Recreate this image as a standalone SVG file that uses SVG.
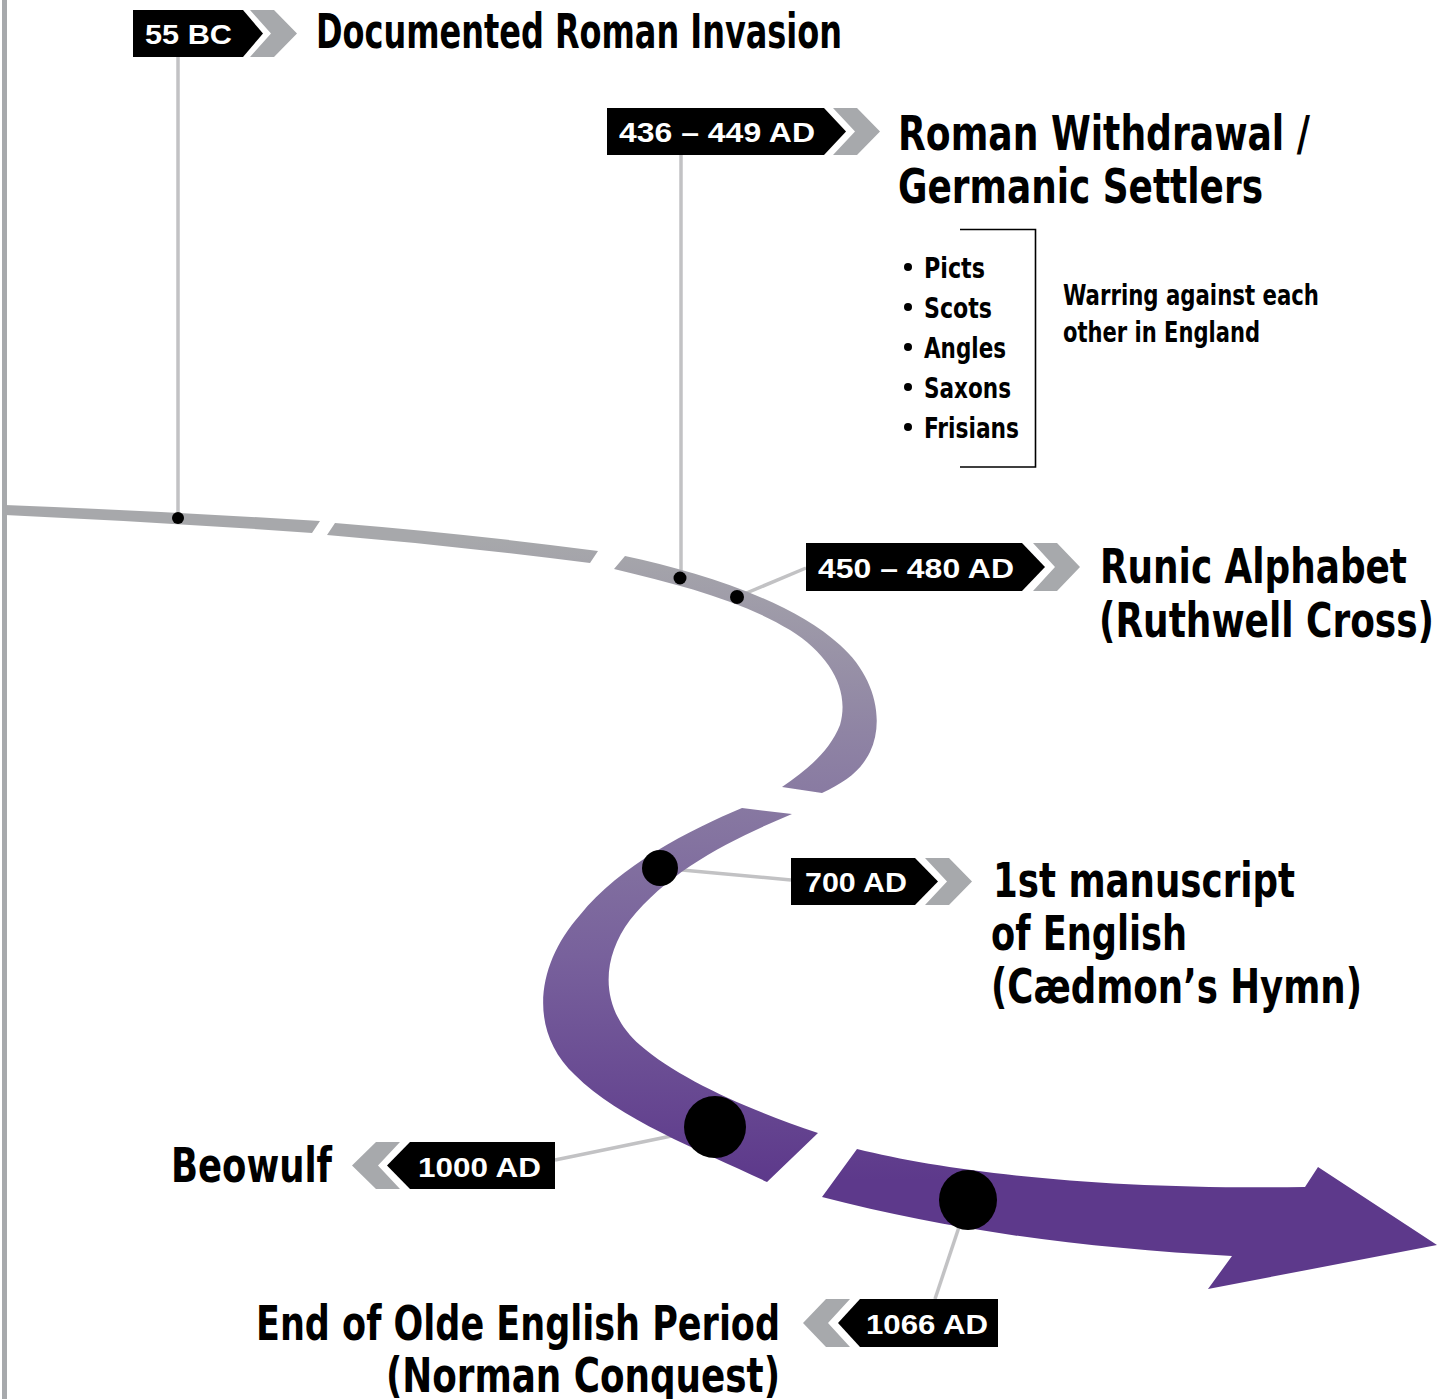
<svg xmlns="http://www.w3.org/2000/svg" width="1450" height="1399" viewBox="0 0 1450 1399">
<style>
.title{font-family:"Liberation Sans Narrow","DejaVu Sans Condensed","Liberation Sans",sans-serif;font-weight:bold;font-size:48px;fill:#000}
.small{font-family:"Liberation Sans Narrow","DejaVu Sans Condensed","Liberation Sans",sans-serif;font-weight:bold;font-size:29px;fill:#000}
.lab{font-family:"Liberation Sans","DejaVu Sans",sans-serif;font-weight:bold;font-size:28px;fill:#fff}
.tag{fill:#000}
.chev{fill:#a7a9ac}
.conn{stroke:#c2c2c4;stroke-width:3.5;fill:none}
.band{fill:url(#bandGrad)}
.dot{fill:#000}
</style>
<defs>
<linearGradient id="bandGrad" gradientUnits="userSpaceOnUse" x1="0" y1="540" x2="0" y2="1180">
<stop offset="0" stop-color="#a7a8ab"/>
<stop offset="0.3" stop-color="#8f84a4"/>
<stop offset="0.65" stop-color="#78619c"/>
<stop offset="1" stop-color="#5d398b"/>
</linearGradient>
</defs>
<rect x="2" y="0" width="5" height="1399" fill="#a7a9ac"/>
<g id="connectors">
<line class="conn" x1="178" y1="57" x2="178" y2="518"/>
<line class="conn" x1="681" y1="155" x2="681" y2="578"/>
<line class="conn" x1="737" y1="597" x2="806" y2="568"/>
<line class="conn" x1="660" y1="868" x2="791" y2="880"/>
<line class="conn" x1="715" y1="1127" x2="555" y2="1160"/>
<line class="conn" x1="968" y1="1200" x2="935" y2="1299"/>
</g>
<g id="timeline">
<path class="band" d="M5,505 Q160,511 320,521 L312,533 Q160,522 5,515 Z"/>
<path class="band" d="M335,523 Q470,534 598,551 L590,563 Q460,546 327,535 Z"/>
<path class="band" d="M625,556 C700,572 790,600 840,645 C875,676 885,720 870,752 C860,772 845,782 822,793 L782,787 C810,768 830,750 840,725 C850,690 830,655 790,630 C740,600 680,585 614,569 Z"/>
<path class="band" d="M742,808 C690,830 620,865 580,915 C537,963 527,1030 575,1075 C620,1120 700,1150 767,1182 L818,1133 C750,1110 680,1080 640,1045 C600,1010 600,960 630,920 C670,870 730,840 792,814 Z"/>
<path class="band" d="M857,1149 C950,1172 1100,1190 1305,1187 L1318,1167 L1437,1245 L1208,1289 L1232,1256 C1080,1248 950,1230 822,1197 Z"/>
</g>
<g id="n55bc">
<circle class="dot" cx="178" cy="518" r="6"/>
<path class="tag" d="M133,10 H243 L263,33.5 L243,57 H133 Z"/>
<path class="chev" d="M250,10 H274 L297,33.5 L274,57 H250 L271,33.5 Z"/>
<text class="lab" x="145" y="44" textLength="87" lengthAdjust="spacingAndGlyphs">55 BC</text>
<text class="title" x="316" y="48" textLength="526" lengthAdjust="spacingAndGlyphs">Documented Roman Invasion</text>
</g>
<g id="n436">
<circle class="dot" cx="680" cy="578" r="6.5"/>
<path class="tag" d="M607,108 H824 L846,131.5 L824,155 H607 Z"/>
<path class="chev" d="M833,108 H857 L880,131.5 L857,155 H833 L855,131.5 Z"/>
<text class="lab" x="619" y="142" textLength="196" lengthAdjust="spacingAndGlyphs">436 – 449 AD</text>
<text class="title" x="898" y="150" textLength="412" lengthAdjust="spacingAndGlyphs">Roman Withdrawal /</text>
<text class="title" x="898" y="203" textLength="365" lengthAdjust="spacingAndGlyphs">Germanic Settlers</text>
</g>
<g id="tribes">
<path d="M960,229.5 H1035.5 V467 H960" fill="none" stroke="#000" stroke-width="1.6"/>
<circle class="dot" cx="908" cy="267" r="4"/>
<circle class="dot" cx="908" cy="307" r="4"/>
<circle class="dot" cx="908" cy="347" r="4"/>
<circle class="dot" cx="908" cy="387" r="4"/>
<circle class="dot" cx="908" cy="427" r="4"/>
<text class="small" x="924" y="278" textLength="61" lengthAdjust="spacingAndGlyphs">Picts</text>
<text class="small" x="924" y="318" textLength="68" lengthAdjust="spacingAndGlyphs">Scots</text>
<text class="small" x="924" y="358" textLength="82" lengthAdjust="spacingAndGlyphs">Angles</text>
<text class="small" x="924" y="398" textLength="87" lengthAdjust="spacingAndGlyphs">Saxons</text>
<text class="small" x="924" y="438" textLength="95" lengthAdjust="spacingAndGlyphs">Frisians</text>
<text class="small" x="1063" y="305" textLength="256" lengthAdjust="spacingAndGlyphs">Warring against each</text>
<text class="small" x="1063" y="342" textLength="197" lengthAdjust="spacingAndGlyphs">other in England</text>
</g>
<g id="n450">
<circle class="dot" cx="737" cy="597" r="7"/>
<path class="tag" d="M806,543 H1022 L1045,567 L1022,591 H806 Z"/>
<path class="chev" d="M1033,543 H1057 L1080,567 L1057,591 H1033 L1055,567 Z"/>
<text class="lab" x="818" y="578" textLength="196" lengthAdjust="spacingAndGlyphs">450 – 480 AD</text>
<text class="title" x="1100" y="583" textLength="307" lengthAdjust="spacingAndGlyphs">Runic Alphabet</text>
<text class="title" x="1099" y="637" textLength="335" lengthAdjust="spacingAndGlyphs">(Ruthwell Cross)</text>
</g>
<g id="n700">
<circle class="dot" cx="660" cy="868" r="18"/>
<path class="tag" d="M791,858 H915 L938,881.5 L915,905 H791 Z"/>
<path class="chev" d="M925,858 H949 L972,881.5 L949,905 H925 L947,881.5 Z"/>
<text class="lab" x="805" y="892" textLength="102" lengthAdjust="spacingAndGlyphs">700 AD</text>
<text class="title" x="993" y="897" textLength="302" lengthAdjust="spacingAndGlyphs">1st manuscript</text>
<text class="title" x="991" y="950" textLength="196" lengthAdjust="spacingAndGlyphs">of English</text>
<text class="title" x="991" y="1003" textLength="371" lengthAdjust="spacingAndGlyphs">(Cædmon’s Hymn)</text>
</g>
<g id="n1000">
<circle class="dot" cx="715" cy="1127" r="31"/>
<path class="tag" d="M555,1142 H410 L387,1165.5 L410,1189 H555 Z"/>
<path class="chev" d="M400,1142 H376 L352,1165.5 L376,1189 H400 L378,1165.5 Z"/>
<text class="lab" x="418" y="1177" textLength="123" lengthAdjust="spacingAndGlyphs">1000 AD</text>
<text class="title" x="171" y="1182" textLength="161" lengthAdjust="spacingAndGlyphs">Beowulf</text>
</g>
<g id="n1066">
<ellipse class="dot" cx="968" cy="1200" rx="29" ry="30"/>
<path class="tag" d="M998,1299 H860 L838,1323 L860,1347 H998 Z"/>
<path class="chev" d="M850,1299 H826 L803,1323 L826,1347 H850 L828,1323 Z"/>
<text class="lab" x="866" y="1334" textLength="122" lengthAdjust="spacingAndGlyphs">1066 AD</text>
<text class="title" x="256" y="1340" textLength="524" lengthAdjust="spacingAndGlyphs">End of Olde English Period</text>
<text class="title" x="386" y="1392" textLength="394" lengthAdjust="spacingAndGlyphs">(Norman Conquest)</text>
</g>
</svg>
